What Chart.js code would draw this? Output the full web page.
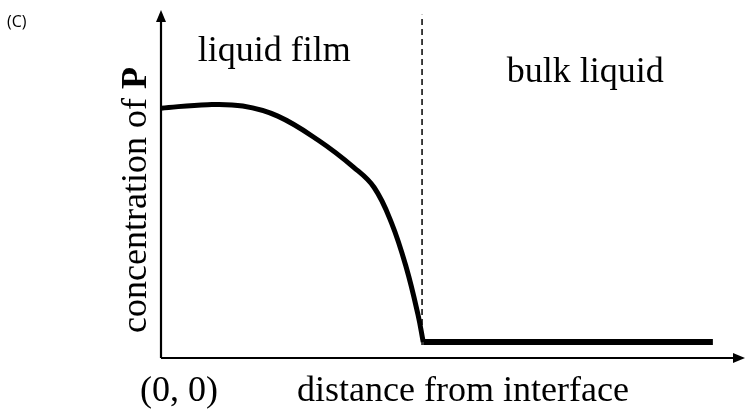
<!DOCTYPE html>
<html>
<head>
<meta charset="utf-8">
<script src="https://cdn.jsdelivr.net/npm/chart.js@4"></script>
<style>
  html, body { margin: 0; padding: 0; background: #fff; }
  #wrap { position: relative; width: 747px; height: 412px; }
</style>
</head>
<body>
<div id="wrap"><canvas id="profileChart" width="747" height="412"></canvas></div>
<script>
// --- DATA (axis units 0-100) ---
const filmX = [0, 8.0, 14.0, 20.0, 27.0, 33.0, 36.5, 39.5, 42.0, 44.0, 44.9];
const filmY = [71.8, 72.8, 72.4, 69.5, 62.5, 54.8, 49.0, 38.7, 26.0, 12.5, 4.6];
const bulkX = [44.9, 94.5];
const bulkY = [4.6, 4.6];
const interfaceX = [44.7, 44.7];
const interfaceY = [3.7, 98.6];

const xTitle = 'distance from interface';
const yTitle = 'concentration of ';
const yTitleBold = 'P';
const originLabel = '(0, 0)';
const regionLabels = ['liquid film', 'bulk liquid'];
const panelLabel = '(C)';

const toPoints = (xs, ys) => xs.map((x, i) => ({ x: x, y: ys[i] }));

const SERIF = '"Liberation Serif", "DejaVu Serif", serif';

// --- axes with arrowheads + all the text ---
const decorPlugin = {
  id: 'decor',
  afterDraw(chart) {
    const ctx = chart.ctx;
    const a = chart.chartArea;
    const xs = chart.scales.x;
    const ys = chart.scales.y;

    ctx.save();
    ctx.strokeStyle = '#000';
    ctx.fillStyle = '#000';
    ctx.lineWidth = 2.2;

    // y axis
    ctx.beginPath();
    ctx.moveTo(a.left, a.bottom);
    ctx.lineTo(a.left, a.top + 4);
    ctx.stroke();
    ctx.beginPath();
    ctx.moveTo(a.left, a.top);
    ctx.lineTo(a.left - 5, a.top + 12);
    ctx.lineTo(a.left + 5, a.top + 12);
    ctx.closePath();
    ctx.fill();

    // x axis
    ctx.beginPath();
    ctx.moveTo(a.left, a.bottom);
    ctx.lineTo(a.right - 4, a.bottom);
    ctx.stroke();
    ctx.beginPath();
    ctx.moveTo(a.right, a.bottom);
    ctx.lineTo(a.right - 12, a.bottom - 5);
    ctx.lineTo(a.right - 12, a.bottom + 5);
    ctx.closePath();
    ctx.fill();

    // region labels
    ctx.font = '36px ' + SERIF;
    ctx.textBaseline = 'alphabetic';
    ctx.textAlign = 'left';
    ctx.fillText(regionLabels[0], xs.getPixelForValue(6.3), 61);
    ctx.fillText(regionLabels[1], xs.getPixelForValue(59.2), 82);

    // bottom labels
    ctx.fillText(originLabel, a.left - 21, 401);
    ctx.fillText(xTitle, xs.getPixelForValue(23.3), 401);

    // y title, rotated
    ctx.save();
    ctx.translate(146, ys.getPixelForValue(45.4));
    ctx.rotate(-Math.PI / 2);
    ctx.font = '36px ' + SERIF;
    const w1 = ctx.measureText(yTitle).width;
    ctx.font = 'bold 36px ' + SERIF;
    const w2 = ctx.measureText(yTitleBold).width;
    const start = -(w1 + w2) / 2;
    ctx.font = '36px ' + SERIF;
    ctx.fillText(yTitle, start, 0);
    ctx.font = 'bold 36px ' + SERIF;
    ctx.fillText(yTitleBold, start + w1, 0);
    ctx.restore();

    // panel tag
    ctx.font = '16px "Open Sans", sans-serif';
    ctx.textBaseline = 'middle';
    ctx.fillText(panelLabel, 7, 22);

    ctx.restore();
  }
};

const ctx = document.getElementById('profileChart').getContext('2d');
new Chart(ctx, {
  type: 'line',
  data: {
    datasets: [
      {
        label: 'liquid film',
        data: toPoints(filmX, filmY),
        borderColor: '#000',
        borderWidth: 5,
        pointRadius: 0,
        fill: false,
        tension: 0.4,
        borderCapStyle: 'butt'
      },
      {
        label: 'bulk liquid',
        data: toPoints(bulkX, bulkY),
        borderColor: '#000',
        borderWidth: 6,
        pointRadius: 0,
        fill: false,
        borderCapStyle: 'butt'
      },
      {
        label: 'interface',
        data: toPoints(interfaceX, interfaceY),
        borderColor: '#000',
        borderWidth: 1.5,
        borderDash: [6, 4],
        pointRadius: 0,
        fill: false
      }
    ]
  },
  options: {
    responsive: false,
    animation: false,
    devicePixelRatio: 1,
    layout: { padding: { left: 161, right: 2, top: 10, bottom: 54 } },
    plugins: { legend: { display: false }, tooltip: { enabled: false } },
    scales: {
      x: { type: 'linear', min: 0, max: 100, display: false },
      y: { type: 'linear', min: 0, max: 100, display: false }
    }
  },
  plugins: [decorPlugin]
});
</script>
</body>
</html>
